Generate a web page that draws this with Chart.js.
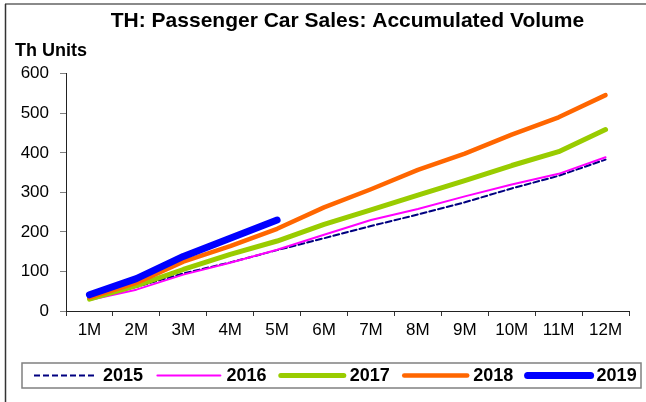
<!DOCTYPE html>
<html>
<head>
<meta charset="utf-8">
<title>TH: Passenger Car Sales</title>
<script src="https://cdn.jsdelivr.net/npm/chart.js@4.4.1/dist/chart.umd.min.js"></script>
<style>
  html, body { margin: 0; padding: 0; background: #fff; }
  #wrap { position: relative; width: 646px; height: 402px; }
</style>
</head>
<body>
<div id="wrap"><canvas id="myChart" width="646" height="402"></canvas></div>
<script>
// accumulated volume, thousand units
var months = ['1M', '2M', '3M', '4M', '5M', '6M', '7M', '8M', '9M', '10M', '11M', '12M'];
var years = ['2015', '2016', '2017', '2018', '2019'];
var s2015 = [30, 61, 95, 123, 154, 184, 215, 244, 275, 310, 342, 383];
var s2016 = [28, 54, 92, 122, 155, 193, 230, 258, 290, 320, 347, 389];
var s2017 = [30, 64, 105, 143, 177, 219, 256, 293, 330, 368, 403, 459];
var s2018 = [34, 71, 125, 164, 208, 262, 308, 357, 398, 446, 490, 546];
var s2019 = [41, 82, 138, 184, 230];
var yTicks = [0, 100, 200, 300, 400, 500, 600];

var FONT = "'Liberation Sans', Arial, sans-serif";

// grey frame round the whole picture
var framePlugin = {
    id: 'frame',
    beforeDraw: function (chart) {
        var c = chart.ctx;
        c.save();
        c.strokeStyle = '#8a8a8a';
        c.lineWidth = 2;
        c.beginPath();
        c.moveTo(5, 4);
        c.lineTo(chart.width, 4);
        c.stroke();
        c.strokeStyle = '#333';
        c.lineWidth = 1.5;
        c.beginPath();
        c.moveTo(5.5, 4);
        c.lineTo(5.5, chart.height);
        c.stroke();
        c.restore();
    }
};

// boxed legend under the x axis, built from the dataset styles
var boxLegend = {
    id: 'boxLegend',
    afterDraw: function (chart, args, opts) {
        var c = chart.ctx;
        var b = opts.box;
        c.save();
        c.strokeStyle = '#808080';
        c.lineWidth = 1.5;
        c.strokeRect(b.x, b.y, b.w, b.h);
        var step = (b.w - 2) / chart.data.datasets.length;
        var cy = b.y + b.h / 2;
        c.font = 'bold 18px ' + FONT;
        c.textBaseline = 'middle';
        c.fillStyle = '#000';
        chart.data.datasets.forEach(function (ds, i) {
            var x = b.x + 12 + i * step;
            c.save();
            c.strokeStyle = ds.borderColor;
            c.lineWidth = ds.borderWidth;
            c.lineCap = ds.borderDash ? 'butt' : 'round';
            c.setLineDash(ds.borderDash || []);
            c.beginPath();
            c.moveTo(x, cy);
            c.lineTo(x + opts.lineLen, cy);
            c.stroke();
            c.restore();
            c.fillText(ds.label, x + opts.lineLen + 6, cy + 1);
        });
        c.restore();
    }
};

var styles = [
    { color: '#000080', width: 2, dash: [6, 3] },
    { color: '#FF00FF', width: 2 },
    { color: '#99CC00', width: 5 },
    { color: '#FF6600', width: 4.5 },
    { color: '#0000FF', width: 7 }
];
var series = [s2015, s2016, s2017, s2018, s2019];

var datasets = years.map(function (y, i) {
    return {
        label: y,
        data: series[i],
        borderColor: styles[i].color,
        backgroundColor: styles[i].color,
        borderWidth: styles[i].width,
        borderDash: styles[i].dash,
        borderCapStyle: 'round',
        borderJoinStyle: 'round',
        pointRadius: 0,
        tension: 0,
        fill: false,
        order: years.length - i
    };
});

var ctx = document.getElementById('myChart');
var myChart = new Chart(ctx, {
    type: 'line',
    data: { labels: months, datasets: datasets },
    plugins: [framePlugin, boxLegend],
    options: {
        responsive: false,
        animation: false,
        layout: { padding: { top: 6, left: 15, right: 17, bottom: 60 } },
        plugins: {
            legend: { display: false },
            tooltip: { enabled: false },
            title: {
                display: true,
                text: 'TH: Passenger Car Sales: Accumulated Volume',
                fullSize: false,
                color: '#000',
                font: { family: FONT, size: 21, weight: 'bold' },
                padding: { top: 3, bottom: 4 }
            },
            subtitle: {
                display: true,
                text: 'Th Units',
                align: 'start',
                color: '#000',
                font: { family: FONT, size: 18, weight: 'bold' },
                padding: { top: 2, bottom: 12 }
            },
            boxLegend: {
                box: { x: 22, y: 363, w: 619, h: 25 },
                lineLen: 63
            }
        },
        scales: {
            x: {
                offset: true,
                afterFit: function (s) { s.height = 31; },
                grid: {
                    offset: true,
                    drawOnChartArea: false,
                    drawTicks: true,
                    tickLength: 5,
                    tickColor: '#333',
                    tickWidth: 1
                },
                border: { color: '#222', width: 1 },
                ticks: {
                    color: '#000',
                    font: { family: FONT, size: 17 },
                    padding: 4,
                    maxRotation: 0,
                    autoSkip: false
                }
            },
            y: {
                min: yTicks[0],
                max: yTicks[yTicks.length - 1],
                afterFit: function (s) { s.width = 51; },
                afterBuildTicks: function (s) {
                    s.ticks = yTicks.map(function (v) { return { value: v }; });
                },
                grid: {
                    drawOnChartArea: false,
                    drawTicks: true,
                    tickLength: 6,
                    tickColor: '#808080',
                    tickWidth: 1
                },
                border: { color: '#222', width: 1 },
                ticks: {
                    color: '#000',
                    font: { family: FONT, size: 17 },
                    padding: 11
                }
            }
        }
    }
});
</script>
</body>
</html>
